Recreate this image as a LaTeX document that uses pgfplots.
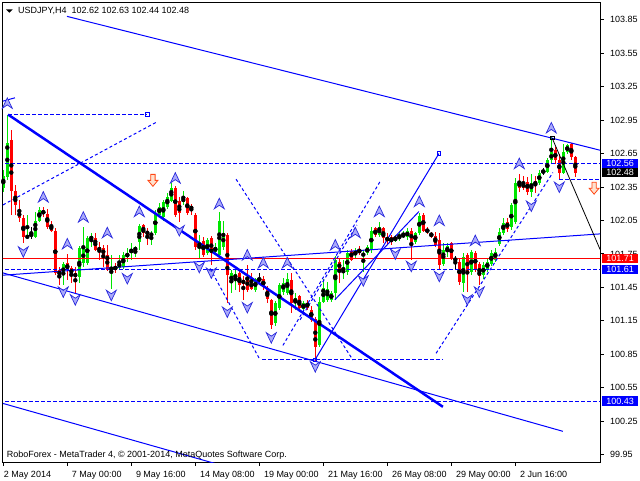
\documentclass[border=0pt]{standalone}
\usepackage{fontspec}
\setmainfont{Liberation Sans}
\usepackage{pgfplots}
\usepackage{pgfplotstable}
\pgfplotsset{compat=1.18}

\definecolor{bull}{RGB}{0,230,0}
\definecolor{bear}{RGB}{255,0,0}
\definecolor{mtblue}{RGB}{0,0,255}
\definecolor{arrfill}{RGB}{170,170,250}
\definecolor{arrdraw}{RGB}{40,40,220}
\definecolor{hollow}{RGB}{255,70,20}
\definecolor{hollowfill}{RGB}{255,225,205}

% fractal arrows
\pgfdeclareplotmark{fup}{%
  \pgfpathmoveto{\pgfqpoint{0pt}{5.5pt}}%
  \pgfpathlineto{\pgfqpoint{5pt}{-5pt}}%
  \pgfpathlineto{\pgfqpoint{0pt}{-1.5pt}}%
  \pgfpathlineto{\pgfqpoint{-5pt}{-5pt}}%
  \pgfpathclose\pgfusepathqfillstroke}
\pgfdeclareplotmark{fdown}{%
  \pgfpathmoveto{\pgfqpoint{0pt}{-5.5pt}}%
  \pgfpathlineto{\pgfqpoint{5pt}{5pt}}%
  \pgfpathlineto{\pgfqpoint{0pt}{1.5pt}}%
  \pgfpathlineto{\pgfqpoint{-5pt}{5pt}}%
  \pgfpathclose\pgfusepathqfillstroke}
\pgfdeclareplotmark{rdown}{%
  \pgfpathmoveto{\pgfqpoint{-2.2pt}{6pt}}%
  \pgfpathlineto{\pgfqpoint{2.2pt}{6pt}}%
  \pgfpathlineto{\pgfqpoint{2.2pt}{0pt}}%
  \pgfpathlineto{\pgfqpoint{5pt}{0pt}}%
  \pgfpathlineto{\pgfqpoint{0pt}{-6pt}}%
  \pgfpathlineto{\pgfqpoint{-5pt}{0pt}}%
  \pgfpathlineto{\pgfqpoint{-2.2pt}{0pt}}%
  \pgfpathclose\pgfusepathqfillstroke}

% USDJPY H4 bars: index, open, high, low, close
\pgfplotstableread{
i o h l c
0 102.34 102.50 102.31 102.45
1 102.44 103.00 102.41 102.75
6 101.89 102.10 101.88 101.92
8 101.90 102.13 101.89 102.05
9 102.05 102.17 102.04 102.14
15 101.56 101.68 101.47 101.66
19 101.54 101.82 101.49 101.80
20 101.67 101.99 101.63 101.80
21 101.67 101.91 101.65 101.89
22 101.88 101.94 101.81 101.91
27 101.61 101.74 101.44 101.63
29 101.62 101.74 101.61 101.68
30 101.63 101.77 101.62 101.74
31 101.72 101.80 101.68 101.76
32 101.76 101.85 101.70 101.80
33 101.78 101.82 101.72 101.81
34 101.86 102.02 101.79 102.00
37 101.91 101.96 101.83 101.94
38 101.94 102.14 101.92 102.12
39 102.10 102.21 102.08 102.17
40 102.08 102.23 102.05 102.22
41 102.17 102.30 102.15 102.26
42 102.23 102.39 102.22 102.34
45 102.22 102.32 102.19 102.25
49 101.81 101.92 101.71 101.86
51 101.76 101.89 101.74 101.88
53 101.77 101.85 101.74 101.81
54 101.74 102.13 101.72 102.05
55 101.81 102.05 101.79 101.94
57 101.49 101.61 101.40 101.58
58 101.53 101.62 101.43 101.57
63 101.43 101.54 101.41 101.53
68 101.13 101.33 101.10 101.31
69 101.27 101.49 101.25 101.47
70 101.41 101.54 101.38 101.49
71 101.40 101.58 101.38 101.53
73 101.31 101.40 101.25 101.36
75 101.26 101.33 101.23 101.31
79 100.93 101.36 100.92 101.32
80 101.32 101.53 101.31 101.45
81 101.34 101.50 101.32 101.44
82 101.34 101.42 101.32 101.40
83 101.40 101.73 101.34 101.70
85 101.58 101.70 101.53 101.61
86 101.59 101.79 101.56 101.76
88 101.74 101.80 101.71 101.78
90 101.73 101.79 101.59 101.76
91 101.76 101.83 101.74 101.81
92 101.79 101.99 101.76 101.96
94 101.92 102.04 101.90 101.99
98 101.87 101.92 101.86 101.90
99 101.88 101.95 101.87 101.92
100 101.90 101.96 101.89 101.93
101 101.90 101.98 101.88 101.96
103 101.86 101.95 101.84 101.94
104 101.94 102.12 101.92 102.09
110 101.66 101.85 101.64 101.79
111 101.77 101.85 101.72 101.82
115 101.49 101.76 101.41 101.72
117 101.59 101.79 101.56 101.77
120 101.56 101.68 101.53 101.65
121 101.61 101.71 101.59 101.68
122 101.66 101.79 101.64 101.76
123 101.70 101.80 101.68 101.77
124 101.84 101.98 101.82 101.95
125 101.94 102.07 101.92 102.03
127 101.99 102.21 101.97 102.19
128 102.04 102.43 102.02 102.39
132 102.31 102.47 102.26 102.39
134 102.39 102.50 102.37 102.48
136 102.49 102.61 102.48 102.59
137 102.59 102.80 102.57 102.66
140 102.48 102.74 102.47 102.66
141 102.66 102.74 102.65 102.73
}\bullbars

\pgfplotstableread{
i o h l c
2 102.77 102.86 102.10 102.32
3 102.32 102.37 102.10 102.19
4 102.14 102.23 102.04 102.07
5 102.07 102.10 101.85 101.90
10 102.14 102.17 102.08 102.11
11 102.11 102.15 101.97 101.99
12 102.01 102.05 101.95 101.96
13 101.96 101.98 101.56 101.58
14 101.61 101.63 101.47 101.55
16 101.67 101.75 101.52 101.61
17 101.62 101.64 101.49 101.57
18 101.58 101.63 101.40 101.54
23 101.89 101.94 101.78 101.79
24 101.81 101.86 101.70 101.78
25 101.80 101.83 101.63 101.74
26 101.74 101.83 101.60 101.61
28 101.64 101.67 101.58 101.61
35 102.01 102.02 101.90 101.94
36 101.96 101.98 101.83 101.92
43 102.34 102.36 102.08 102.10
44 102.23 102.26 102.04 102.12
46 102.25 102.26 102.10 102.12
47 102.18 102.20 102.10 102.15
48 102.10 102.12 101.79 101.81
50 101.87 101.90 101.72 101.74
52 101.89 101.91 101.65 101.76
56 101.92 101.94 101.31 101.56
59 101.58 101.61 101.41 101.47
60 101.52 101.55 101.34 101.48
61 101.54 101.65 101.41 101.43
62 101.50 101.58 101.43 101.44
65 101.53 101.55 101.43 101.45
66 101.45 101.46 101.31 101.35
67 101.34 101.35 101.08 101.11
72 101.52 101.58 101.22 101.31
74 101.37 101.38 101.23 101.27
76 101.31 101.34 101.25 101.27
77 101.25 101.28 101.14 101.16
78 101.17 101.19 100.78 100.92
84 101.68 101.71 101.49 101.61
87 101.78 101.80 101.69 101.70
89 101.79 101.82 101.74 101.76
93 101.98 101.99 101.90 101.92
95 101.98 101.99 101.85 101.89
96 101.90 101.94 101.83 101.87
97 101.90 101.92 101.83 101.86
102 101.96 101.98 101.70 101.86
105 102.10 102.12 101.95 101.96
106 101.97 101.99 101.93 101.95
107 101.94 101.95 101.89 101.91
108 101.91 101.95 101.81 101.83
109 101.88 101.94 101.62 101.65
112 101.85 101.86 101.70 101.71
114 101.68 101.71 101.47 101.50
116 101.74 101.76 101.41 101.58
118 101.76 101.78 101.59 101.61
119 101.66 101.68 101.47 101.55
126 102.04 102.07 101.95 101.97
129 102.40 102.47 102.31 102.34
130 102.39 102.45 102.32 102.34
131 102.40 102.44 102.28 102.31
133 102.40 102.45 102.30 102.37
138 102.68 102.71 102.56 102.59
139 102.59 102.65 102.41 102.48
142 102.74 102.75 102.59 102.62
143 102.62 102.63 102.44 102.48
}\bearbars

\pgfplotstableread{
i o h l c
7 101.92 101.99 101.88 101.92
64 101.52 101.58 101.47 101.52
113 101.70 101.73 101.62 101.70
135 102.49 102.52 102.46 102.49
}\dojibars

\newcommand{\candles}[2]{%
  \addplot[only marks, mark=none, forget plot,
    error bars/.cd, y dir=both, y explicit, error mark=none,
    error bar style={#2, line width=1pt}]
    table[x=i, y expr=(\thisrow{h}+\thisrow{l})/2,
          y error expr=(\thisrow{h}-\thisrow{l})/2] {#1};
  \addplot[only marks, mark=none, forget plot,
    error bars/.cd, y dir=both, y explicit, error mark=none,
    error bar style={#2, line width=3pt}]
    table[x=i, y expr=(\thisrow{o}+\thisrow{c})/2,
          y error expr=abs(\thisrow{o}-\thisrow{c})/2] {#1};
}

\begin{document}
\begin{tikzpicture}[font=\fontsize{9}{11}\selectfont]
\begin{axis}[
  at={(3pt,18pt)}, anchor=south west,
  scale only axis, width=597pt, height=459pt,
  xmin=-0.075, xmax=149.175,
  ymin=99.885, ymax=104.0,
  axis line style={black, line width=1pt},
  tick align=outside, major tick length=3.5pt,
  tick style={black, line width=1pt},
  xtick pos=bottom, ytick pos=right, yticklabel pos=right,
  xtick={0,16,32,48,64,80,96,112,128},
  xticklabels={{\hspace*{-4pt}2 May 2014},7 May 00:00,9 May 16:00,14 May 08:00,
    19 May 00:00,21 May 16:00,26 May 08:00,29 May 00:00,2 Jun 16:00},
  xticklabel style={anchor=base west, inner sep=0pt, xshift=4.5pt, yshift=-12.3pt,
    font=\fontsize{9}{11}\selectfont},
  ytick={99.95,100.25,100.55,100.85,101.15,101.45,101.75,102.05,102.35,102.65,102.95,103.25,103.55,103.85},
  yticklabels={99.95,100.25,100.55,100.85,101.15,101.45,101.75,102.05,102.35,102.65,102.95,103.25,103.55,103.85},
  yticklabel style={anchor=west, inner sep=0pt, xshift=6.5pt,
    font=\fontsize{9}{11}\selectfont},
]

% candles
\candles{\bullbars}{bull}
\candles{\bearbars}{bear}
\candles{\dojibars}{black}
\addplot[only marks, mark=-, mark size=2pt, black, forget plot] table[x=i, y=o] {\dojibars};

% horizontal levels
\addplot[bear, line width=1pt] coordinates {(-1,101.71) (150,101.71)};
\addplot[mtblue, line width=1pt, dash pattern=on 4pt off 2pt] coordinates {(-1,102.56) (150,102.56)};
\addplot[mtblue, line width=1pt, dash pattern=on 4pt off 2pt] coordinates {(-1,101.61) (150,101.61)};
\addplot[mtblue, line width=1pt, dash pattern=on 4pt off 2pt] coordinates {(-1,100.43) (150,100.43)};
\addplot[mtblue, line width=1pt, dash pattern=on 4pt off 2pt] coordinates {(1.2,103.00) (36,103.00)};
\addplot[mtblue, line width=1pt, dash pattern=on 4pt off 2pt] coordinates {(139,102.42) (150,102.42)};
\addplot[mtblue, line width=1pt, dash pattern=on 4pt off 2pt] coordinates {(64.7,100.80) (109.9,100.80)};

% trend lines
\addplot[mtblue, line width=1pt] coordinates {(15.93,103.88) (149.2,102.68)};
\addplot[mtblue, line width=2.5pt] coordinates {(1.18,103.00) (109.9,100.38)};
\addplot[mtblue, line width=1pt] coordinates {(-0.08,101.58) (139.9,100.16)};
\addplot[mtblue, line width=1pt] coordinates {(-0.08,100.41) (60,99.80)};
\addplot[mtblue, line width=1pt] coordinates {(-0.08,101.56) (149.2,101.93)};
\addplot[mtblue, line width=1pt] coordinates {(-0.08,103.12) (2.9,103.15)};
\addplot[mtblue, line width=1pt] coordinates {(77.9,100.80) (108.9,102.65)};
\addplot[mtblue, line width=1pt] coordinates {(82.9,101.34) (103.9,102.13)};
\addplot[black, line width=0.8pt] coordinates {(137.2,102.79) (149.2,101.79)};

% dashed projections
\addplot[mtblue, line width=1pt, dash pattern=on 3pt off 2.5pt] coordinates {(-0.08,102.19) (38.2,102.93)};
\addplot[mtblue, line width=1pt, dash pattern=on 3pt off 2.5pt] coordinates {(58.2,102.42) (87.4,100.80)};
\addplot[mtblue, line width=1pt, dash pattern=on 3pt off 2.5pt] coordinates {(51.7,101.62) (64.2,100.80)};
\addplot[mtblue, line width=1pt, dash pattern=on 3pt off 2.5pt] coordinates {(69.9,100.93) (94.2,102.40)};
\addplot[mtblue, line width=1pt, dash pattern=on 3pt off 2.5pt] coordinates {(74.2,101.16) (88.4,102.01)};
\addplot[mtblue, line width=1pt, dash pattern=on 3pt off 2.5pt] coordinates {(108.2,100.86) (137.4,102.48)};

% anchor squares
\addplot[only marks, mark=square, mark size=1.8pt, mtblue, mark options={line width=0.8pt}]
  coordinates {(36,103.00) (77.9,100.80) (108.9,102.65)};
\addplot[only marks, mark=square, mark size=1.8pt, black, mark options={line width=0.8pt}]
  coordinates {(137.2,102.79)};

% fractals
\addplot[only marks, mark=fup, mark options={draw=arrdraw, fill=arrfill, line width=0.7pt}]
  coordinates {(1,103.10) (10,102.26) (16,101.84) (20,102.08) (26,101.94) (34,102.13)
    (43,102.43) (54,102.20) (61,101.74) (65,101.67) (71,101.67) (83,101.83) (88,101.94)
    (94,102.13) (104,102.22) (109,102.05) (118,101.87) (129,102.56) (137,102.88)};
\addplot[only marks, mark=fdown, mark options={draw=arrdraw, fill=arrfill, line width=0.7pt}]
  coordinates {(5,101.77) (15,101.41) (18,101.34) (27,101.38) (31,101.53) (44,101.96)
    (49,101.63) (52,101.58) (56,101.23) (61,101.27) (67,101.00) (78,100.74) (90,101.51)
    (98,101.75) (102,101.64) (109,101.55) (116,101.34) (119,101.41) (132,102.18) (139,102.35)};
\addplot[only marks, mark=rdown, mark options={draw=hollow, fill=hollowfill, line width=0.8pt}]
  coordinates {(37.4,102.41) (147.7,102.34)};

\coordinate (qa) at (axis cs:149.175,102.56);
\coordinate (qb) at (axis cs:149.175,102.48);
\coordinate (qc) at (axis cs:149.175,101.71);
\coordinate (qd) at (axis cs:149.175,101.61);
\coordinate (qe) at (axis cs:149.175,100.43);
\end{axis}

% price tags on the scale
\tikzset{tag/.style={anchor=west, text=white, inner xsep=4pt, inner ysep=0pt,
  minimum height=9.6pt, minimum width=36pt, xshift=2pt}}
\node[tag, fill=mtblue] at (qa) {102.56};
\node[tag, fill=black] at (qb) {102.48};
\node[tag, fill=bear] at (qc) {101.71};
\node[tag, fill=mtblue] at (qd) {101.61};
\node[tag, fill=mtblue] at (qe) {100.43};

% header and footer text
\fill[black] (6pt,470.7pt) -- (12.7pt,470.7pt) -- (9.35pt,467.3pt) -- cycle;
\node[anchor=base west, inner sep=0pt] at (18pt,466.7pt) {USDJPY,H4\ \ 102.62 102.63 102.44 102.48};
\node[anchor=base west, inner sep=0pt] at (6.7pt,22.7pt) {RoboForex - MetaTrader 4, © 2001-2014, MetaQuotes Software Corp.};

\pgfresetboundingbox
\useasboundingbox (0,0) rectangle (640pt,480pt);
\end{tikzpicture}
\end{document}
